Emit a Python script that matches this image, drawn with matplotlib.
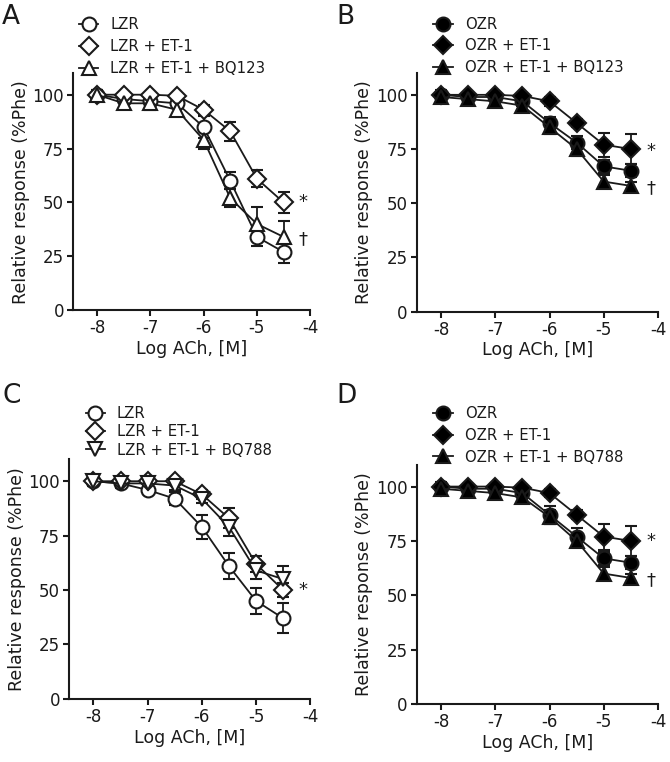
import numpy as np
import matplotlib.pyplot as plt
from matplotlib.lines import Line2D

plt.rcParams['font.family'] = ['DejaVu Sans']
plt.rcParams['axes.unicode_minus'] = False

x = [-8, -7.5, -7, -6.5, -6, -5.5, -5, -4.5]

# Panel A (lean, BQ123)
a_lzr = [100, 98, 97, 96, 85, 60, 34, 27]
a_lzr_err = [2, 2, 2, 2, 5, 4, 4, 5]
a_et1 = [100, 100, 100, 99.5, 93, 83, 61, 50]
a_et1_err = [1, 1, 1, 1, 2, 4.5, 4, 5]
a_bq = [100, 96, 96, 93, 79, 52, 40, 34]
a_bq_err = [2, 2, 3, 2, 4, 4, 8, 7.5]

# Panel B (obese, BQ123)
b_ozr = [100, 99, 99, 97, 87, 78, 67, 65]
b_ozr_err = [2, 2, 2, 2, 3, 3, 3, 3]
b_et1 = [100, 100, 100, 99.5, 97, 87, 77, 75]
b_et1_err = [1, 1, 1, 1, 2, 2, 5.5, 7]
b_bq = [99, 98, 97, 95, 85, 75, 60, 58]
b_bq_err = [2, 2, 2, 2, 3, 3, 3, 2]

# Panel C (lean, BQ788)
c_lzr = [100, 99, 96, 92, 79, 61, 45, 37]
c_lzr_err = [2, 2, 2, 3, 5.5, 6, 6, 7]
c_et1 = [100, 100, 100, 100, 94, 83, 62, 50]
c_et1_err = [1, 1, 1, 1, 2, 4.5, 3.5, 3]
c_bq = [100, 99, 99, 98, 92, 79, 59, 55]
c_bq_err = [2, 2, 2, 2, 2, 4, 4, 6]

# Panel D (obese, BQ788)
d_ozr = [100, 99, 99, 97, 87, 77, 67, 65]
d_ozr_err = [2, 2, 2, 2, 4, 4, 3, 3]
d_et1 = [100, 100, 100, 99.5, 97, 87, 77, 75]
d_et1_err = [1, 1, 1, 1, 2, 2, 6, 7]
d_bq = [99, 98, 97, 95, 86, 75, 60, 58]
d_bq_err = [2, 2, 2, 2, 3, 3, 3, 2]

panels = [
    ("A", [0.109, 0.593, 0.354, 0.311],
     [("LZR", a_lzr, a_lzr_err, "o", "white"),
      ("LZR + ET-1", a_et1, a_et1_err, "D", "white"),
      ("LZR + ET-1 + BQ123", a_bq, a_bq_err, "^", "white")],
     [("*", 50), ("\u2020", 33)]),
    ("B", [0.622, 0.591, 0.360, 0.313],
     [("OZR", b_ozr, b_ozr_err, "o", "black"),
      ("OZR + ET-1", b_et1, b_et1_err, "D", "black"),
      ("OZR + ET-1 + BQ123", b_bq, b_bq_err, "^", "black")],
     [("*", 74), ("\u2020", 57)]),
    ("C", [0.103, 0.083, 0.360, 0.314],
     [("LZR", c_lzr, c_lzr_err, "o", "white"),
      ("LZR + ET-1", c_et1, c_et1_err, "D", "white"),
      ("LZR + ET-1 + BQ788", c_bq, c_bq_err, "v", "white")],
     [("*", 50)]),
    ("D", [0.622, 0.076, 0.360, 0.314],
     [("OZR", d_ozr, d_ozr_err, "o", "black"),
      ("OZR + ET-1", d_et1, d_et1_err, "D", "black"),
      ("OZR + ET-1 + BQ788", d_bq, d_bq_err, "^", "black")],
     [("*", 75), ("\u2020", 57)]),
]

fig = plt.figure(figsize=(6.7, 7.62), dpi=100)
ink = "#1a1a1a"

letter_pos = [(0.003, 0.995), (0.502, 0.995), (0.003, 0.497), (0.502, 0.497)]
legend_pos = [(0.118, 0.978), (0.647, 0.978), (0.128, 0.467), (0.647, 0.467)]
legend_gap = [0.48, 0.45, 0.22, 0.45]

for i, (letter, rect, series, marks) in enumerate(panels):
    ax = fig.add_axes(rect)
    handles = []
    for label, vals, err, m, fc in series:
        ms = 9 if m == "D" else 10
        ax.errorbar(x, vals, yerr=err, color=ink, marker=m, ms=ms,
                    mfc=fc, mec=ink, mew=1.5, lw=1.3, elinewidth=1.3,
                    capsize=4.5, capthick=1.3)
        handles.append(Line2D([], [], color=ink, marker=m, ms=ms, mfc=fc,
                              mec=ink, mew=1.5, lw=1.3, label=label))
    ax.set_xlim(-8.45, -4)
    ax.set_ylim(0, 110)
    ax.set_xticks([-8, -7, -6, -5, -4])
    ax.set_yticks([0, 25, 50, 75, 100])
    ax.spines['top'].set_visible(False)
    ax.spines['right'].set_visible(False)
    for s in ['left', 'bottom']:
        ax.spines[s].set_linewidth(1.5)
        ax.spines[s].set_color(ink)
    ax.tick_params(direction='out', length=4, width=1.5, colors=ink,
                   labelsize=12, pad=2.5)
    ax.set_xlabel("Log ACh, [M]", fontsize=12.5, color=ink, labelpad=2)
    ax.set_ylabel("Relative response (%Phe)", fontsize=12.5, color=ink,
                  labelpad=2)
    for sym, yv in marks:
        ax.text(-4.22, yv, sym, fontsize=13, ha='left', va='center',
                color=ink, clip_on=False)
    ax.legend(handles=handles, loc='upper left',
              bbox_to_anchor=legend_pos[i], bbox_transform=fig.transFigure,
              frameon=False, fontsize=10.7, handlelength=1.3,
              handletextpad=0.8, labelspacing=legend_gap[i], borderpad=0,
              borderaxespad=0, labelcolor=ink)
    fig.text(letter_pos[i][0], letter_pos[i][1], letter, fontsize=19,
             ha='left', va='top', color=ink)

fig.savefig("out.png", dpi=100)
